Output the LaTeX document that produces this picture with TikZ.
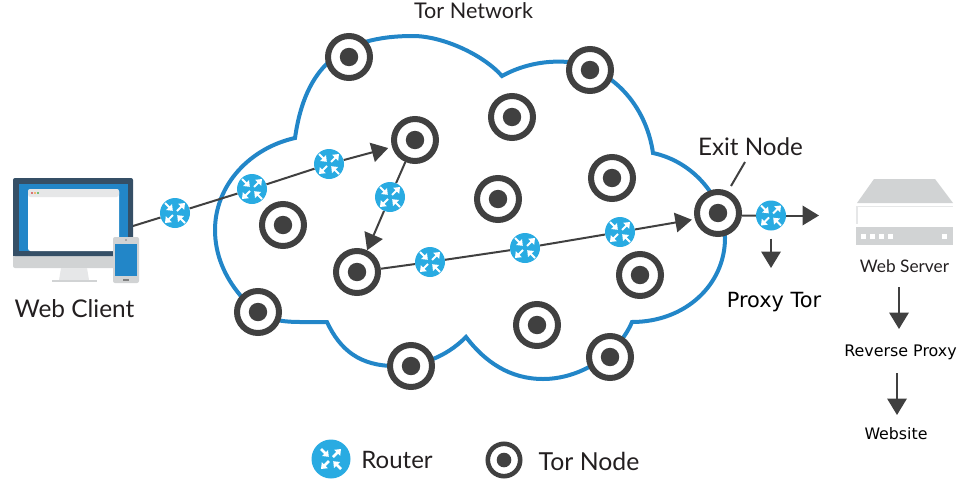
\documentclass[tikz,border=0pt]{standalone}
\usepackage{fontspec}
\setmainfont{Lato}
\newfontfamily\dejavu{DejaVu Sans}
\usetikzlibrary{arrows.meta}
\pgfdeclarelayer{bg}
\pgfsetlayers{bg,main}
\definecolor{darkgrey}{HTML}{404040}
\definecolor{cloudblue}{HTML}{2286C8}
\definecolor{routerblue}{HTML}{29ABE2}
\definecolor{navy}{HTML}{354F66}
\definecolor{silver}{HTML}{D1D3D4}
\definecolor{pale}{HTML}{E6E7E8}
\definecolor{inktext}{HTML}{231F20}
\newcommand{\fs}[1]{\fontsize{#1}{#1}\selectfont}
\tikzset{
  tornode/.style={circle,draw=darkgrey,line width=6pt,fill=white,minimum size=42pt,inner sep=0pt,
    path picture={\fill[darkgrey] (path picture bounding box.center) circle (9.2pt);}},
  tornodelegend/.style={circle,draw=darkgrey,line width=4.6pt,fill=white,minimum size=32.4pt,inner sep=0pt,
    path picture={\fill[darkgrey] (path picture bounding box.center) circle (7.3pt);}},
  routernode/.style={circle,fill=routerblue,minimum size=#1*30pt,inner sep=0pt,
    path picture={
      \begin{scope}[shift={(path picture bounding box.center)},scale=#1]
        \fill[white] (10,-10)--(3.2,-9.2)--(9.2,-3.2)--cycle;
        \draw[white,line width=#1*2pt] (2,-2)--(6.5,-6.5);
        \fill[white] (-2.2,-2.2)--(-9,-3)--(-3,-9)--cycle;
        \draw[white,line width=#1*2pt] (-5,-5)--(-10,-10);
        \fill[white] (-10,10)--(-3.2,9.2)--(-9.2,3.2)--cycle;
        \draw[white,line width=#1*2pt] (-2,2)--(-6.5,6.5);
        \fill[white] (2.2,2.2)--(9,3)--(3,9)--cycle;
        \draw[white,line width=#1*2pt] (5,5)--(10,10);
      \end{scope}}},
  routernode/.default=1,
  link/.style={draw=darkgrey,line width=2pt},
  arrowlink/.style={link,-{Triangle[length=16.5pt,width=19.5pt,color=darkgrey]}},
  brandtext/.style={text=inktext,inner sep=0pt,anchor=center},
  monotext/.style={text=black,inner sep=0pt,anchor=center,font=\dejavu},
  cloudline/.style={draw=cloudblue,line width=4pt,line join=miter,miter limit=20}
}
\begin{document}
\begin{tikzpicture}[x=1pt,y=-1pt]
\useasboundingbox (0,0) rectangle (976,479);

% Tor nodes
\node[tornode] (n1) at (349,57) {};
\node[tornode] (n2) at (590,70) {};
\node[tornode] (n3) at (512,117) {};
\node[tornode] (n4) at (415,140) {};
\node[tornode] (n5) at (612,178) {};
\node[tornode] (n6) at (498,199) {};
\node[tornode] (n7) at (283,225) {};
\node[tornode] (n8) at (357,272) {};
\node[tornode] (n9) at (718,213) {};
\node[tornode] (n10) at (640,275) {};
\node[tornode] (n11) at (258,312) {};
\node[tornode] (n12) at (537,325) {};
\node[tornode] (n13) at (411,366) {};
\node[tornode] (n14) at (610,357) {};

% Routers
\node[routernode] (r1) at (175,213) {};
\node[routernode] (r2) at (252,189) {};
\node[routernode] (r3) at (329,164) {};
\node[routernode] (r4) at (390,197) {};
\node[routernode] (r5) at (430,262) {};
\node[routernode] (r6) at (525,248) {};
\node[routernode] (r7) at (620,232) {};
\node[routernode] (r8) at (771,215.5) {};

% Legend
\node[routernode=1.3] (legr) at (331,459) {};
\node[tornodelegend] (legt) at (504,460) {};

% Labels
\node[brandtext,font=\fs{21.6}] (tnet) at (473.5,11) {Tor Network};
\node[brandtext,font=\fs{24.4}] (wc) at (74.5,309) {Web Client};
\node[brandtext,font=\fs{24.2}] (exit) at (750.5,147) {Exit Node};
\node[brandtext,font=\fs{17.3}] (ws) at (904.5,266) {Web Server};
\node[brandtext,font=\fs{24}] (rl) at (397,460) {Router};
\node[brandtext,font=\fs{24.8}] (tl) at (589,461) {Tor Node};
\node[monotext,font=\dejavu\fs{20.9}] (pt) at (774,302.5) {Proxy Tor};
\node[monotext,font=\dejavu\fs{15.9}] (rp) at (900.5,352.5) {Reverse Proxy};
\node[monotext,font=\dejavu\fs{15.8}] (web) at (896,434) {Website};

% Monitor
\fill[silver,rounded corners=2pt] (13,250) rectangle (133,268);
\fill[navy,rounded corners=2pt] (13,178) rectangle (133,256);
\fill[navy] (13,240) rectangle (133,256);
\fill[cloudblue] (19,184) rectangle (128,251);
\fill[white,rounded corners=2.5pt] (28,251) -- (28,189) -- (119,189) -- (119,251) -- cycle;
\fill[pale,rounded corners=2.5pt] (28,197) -- (28,189) -- (119,189) -- (119,197) -- cycle;
\fill[red!80!black] (32,193) circle (0.9pt);
\fill[orange] (35,193) circle (0.9pt);
\fill[green!60!black] (38,193) circle (0.9pt);
\fill[pale] (61,268) -- (87,268) -- (89,280) -- (59,280) -- cycle;
\fill[silver] (52,280) rectangle (97,282);
% Phone
\fill[silver,rounded corners=2pt] (113,237) rectangle (139,283);
\fill[cloudblue] (115,244) rectangle (137,276);
\fill[gray] (126,240) circle (0.9pt);
\fill[gray] (123,279.3) rectangle (129,280.7);

% Server
\fill[silver] (874,179) -- (935,179) -- (953,203) -- (857,203) -- cycle;
\draw[pale,line width=1.2pt] (857,224) -- (857,206.5) -- (953,206.5);
\fill[silver] (856,227) rectangle (953,245);
\foreach \sx in {861,870,879,888,942}{\fill[white] (\sx,234) rectangle ++(5,4.5);}

% Free ends
\coordinate (client) at (133,226);
\coordinate (outtip) at (819,215.5);
\coordinate (proxytip) at (771,268);
\coordinate (tickA) at (731,186);
\coordinate (tickB) at (745,162);
\coordinate (s1a) at (899,287);
\coordinate (s1b) at (899,329);
\coordinate (s2a) at (897,373);
\coordinate (s2b) at (897,415);

\begin{pgfonlayer}{bg}
  \draw[cloudline]
    (295,138) .. controls (305.3,66.4) and (340.7,36) .. (413,36)
    .. controls (442,36) and (482.7,54.2) .. (502,76)
    .. controls (520,66) and (543,60) .. (568,62)
    .. controls (612,68) and (646,105) .. (653,153)
    .. controls (695,162) and (725,200) .. (725,238)
    .. controls (725,285) and (685,322) .. (632,322)
    .. controls (618,355) and (580,379) .. (543,379)
    .. controls (510,379) and (485,362) .. (466,337)
    .. controls (445,358) and (420,366) .. (395,366)
    .. controls (360,366) and (340,350) .. (327,322)
    -- (300,322)
    .. controls (270,322) and (255,315) .. (240,295)
    .. controls (225,277) and (215,255) .. (215,230)
    .. controls (215,185) and (250,148) .. (295,138) -- cycle;
  \draw[link] (client) -- (r1);
  \draw[link] (r1) -- (r2);
  \draw[link] (r2) -- (r3);
  \draw[arrowlink,shorten >=4pt] (r3) -- (n4.197);
  \draw[link] (n4) -- (r4);
  \draw[arrowlink] (r4) -- (n8.65);
  \draw[link] (n8) -- (r5);
  \draw[link] (r5) -- (r6);
  \draw[link] (r6) -- (r7);
  \draw[arrowlink,shorten >=3pt] (r7) -- (n9.195);
  \draw[link] (n9.354) -- (r8);
  \draw[arrowlink] (r8) -- (outtip);
  \draw[arrowlink,shorten <=8pt] (r8) -- (proxytip);
  \draw[link] (tickA) -- (tickB);
  \draw[arrowlink] (s1a) -- (s1b);
  \draw[arrowlink] (s2a) -- (s2b);
\end{pgfonlayer}
\end{tikzpicture}
\end{document}
